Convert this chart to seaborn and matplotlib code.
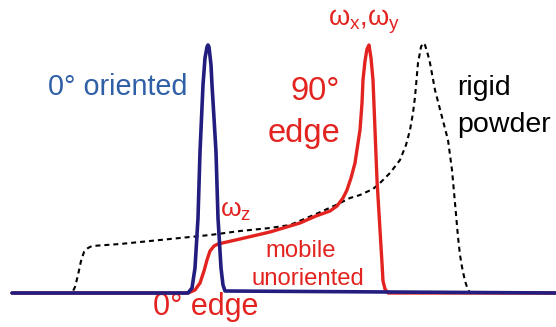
import matplotlib
matplotlib.use("Agg")
import matplotlib.pyplot as plt
import seaborn as sns
import pandas as pd

sns.set_theme(style="white")
plt.rcParams["font.family"] = ["Liberation Sans", "DejaVu Sans"]
plt.rcParams["mathtext.default"] = "regular"

# Oriented sample: single narrow line at the 0-degree position
oriented_x = [12, 188, 192, 195, 198, 200, 203, 205, 207, 208, 209, 211, 212,
              214, 216, 218, 221, 223, 225, 556]
oriented_y = [0, 0, 5, 25, 75, 141, 208, 235, 246, 248, 246, 228, 208,
              175, 141, 75, 25, 8, 2, 0]

# Mobile, unoriented: motionally averaged powder pattern
mobile_x = [12, 188, 195, 200, 204, 207, 210, 214, 218, 240, 270, 300, 316,
            330, 337, 343, 347, 351, 355, 358, 360, 362, 363, 365, 367, 369,
            371, 373, 375, 377, 380, 382, 383, 385, 388, 556]
mobile_y = [0, 0, 3, 10, 22, 33, 42, 47, 49, 54, 61, 70, 77,
            82, 87, 95, 103, 115, 130, 150, 163, 190, 213, 232, 244, 248,
            235, 213, 163, 113, 63, 30, 12, 4, 0, 0]

# Rigid powder pattern
rigid_x = [12, 72, 75, 78, 81, 84, 88, 92, 120, 150, 180, 210, 240, 270, 290,
           316, 336, 350, 360, 373, 380, 390, 400, 406, 410, 413, 415, 418,
           421, 423, 425, 428, 430, 435, 442, 448, 452, 455, 458, 460, 462,
           465, 467, 470, 556]
rigid_y = [0, 0, 6, 18, 32, 41, 45, 47, 49, 52, 55, 58, 62, 65, 68,
           79, 88, 95, 98, 104, 110, 120, 133, 148, 163, 180, 196, 230,
           246, 250, 248, 238, 230, 203, 176, 153, 123, 90, 56, 38, 26,
           12, 6, 0, 0]

RED = "#e2231f"
NAVY = "#221d7e"
BLUE_TXT = "#2f5fa6"

fig = plt.figure(figsize=(5.56, 3.27), dpi=100)
ax = fig.add_axes([0, 0, 1, 1])

rigid = pd.DataFrame({"x": rigid_x, "y": rigid_y})
mobile = pd.DataFrame({"x": mobile_x, "y": mobile_y})
oriented = pd.DataFrame({"x": oriented_x, "y": oriented_y})

sns.lineplot(data=rigid, x="x", y="y", sort=False, estimator=None, ax=ax,
             color="black", lw=1.5, zorder=2)
ax.lines[-1].set_dashes((2.4, 1.9))
sns.lineplot(data=mobile, x="x", y="y", sort=False, estimator=None, ax=ax,
             color=RED, lw=2.4, zorder=3)
sns.lineplot(data=oriented, x="x", y="y", sort=False, estimator=None, ax=ax,
             color=NAVY, lw=2.6, zorder=4)

ax.set_xlim(0, 556)
ax.set_ylim(-34, 293)
ax.axis("off")

ax.text(48, 198, "0° oriented", color=BLUE_TXT, fontsize=20.7, va="baseline", ha="left")
ax.text(340, 193, "90°", color=RED, fontsize=23.5, va="baseline", ha="right")
ax.text(340, 151, "edge", color=RED, fontsize=23.5, va="baseline", ha="right")
ax.text(328, 268, "ω$_x$,ω$_y$", color=RED, fontsize=19.5, va="baseline", ha="left")
ax.text(457, 198, "rigid", color="black", fontsize=20.5, va="baseline", ha="left")
ax.text(457, 161, "powder", color="black", fontsize=20.5, va="baseline", ha="left")
ax.text(220, 76, "ω$_z$", color=RED, fontsize=19, va="baseline", ha="left")
ax.text(301, 36, "mobile", color=RED, fontsize=17.2, va="baseline", ha="center")
ax.text(308, 8, "unoriented", color=RED, fontsize=17.2, va="baseline", ha="center")
ax.text(153, -22, "0° edge", color=RED, fontsize=22, va="baseline", ha="left")

fig.savefig("out.png", dpi=100)
